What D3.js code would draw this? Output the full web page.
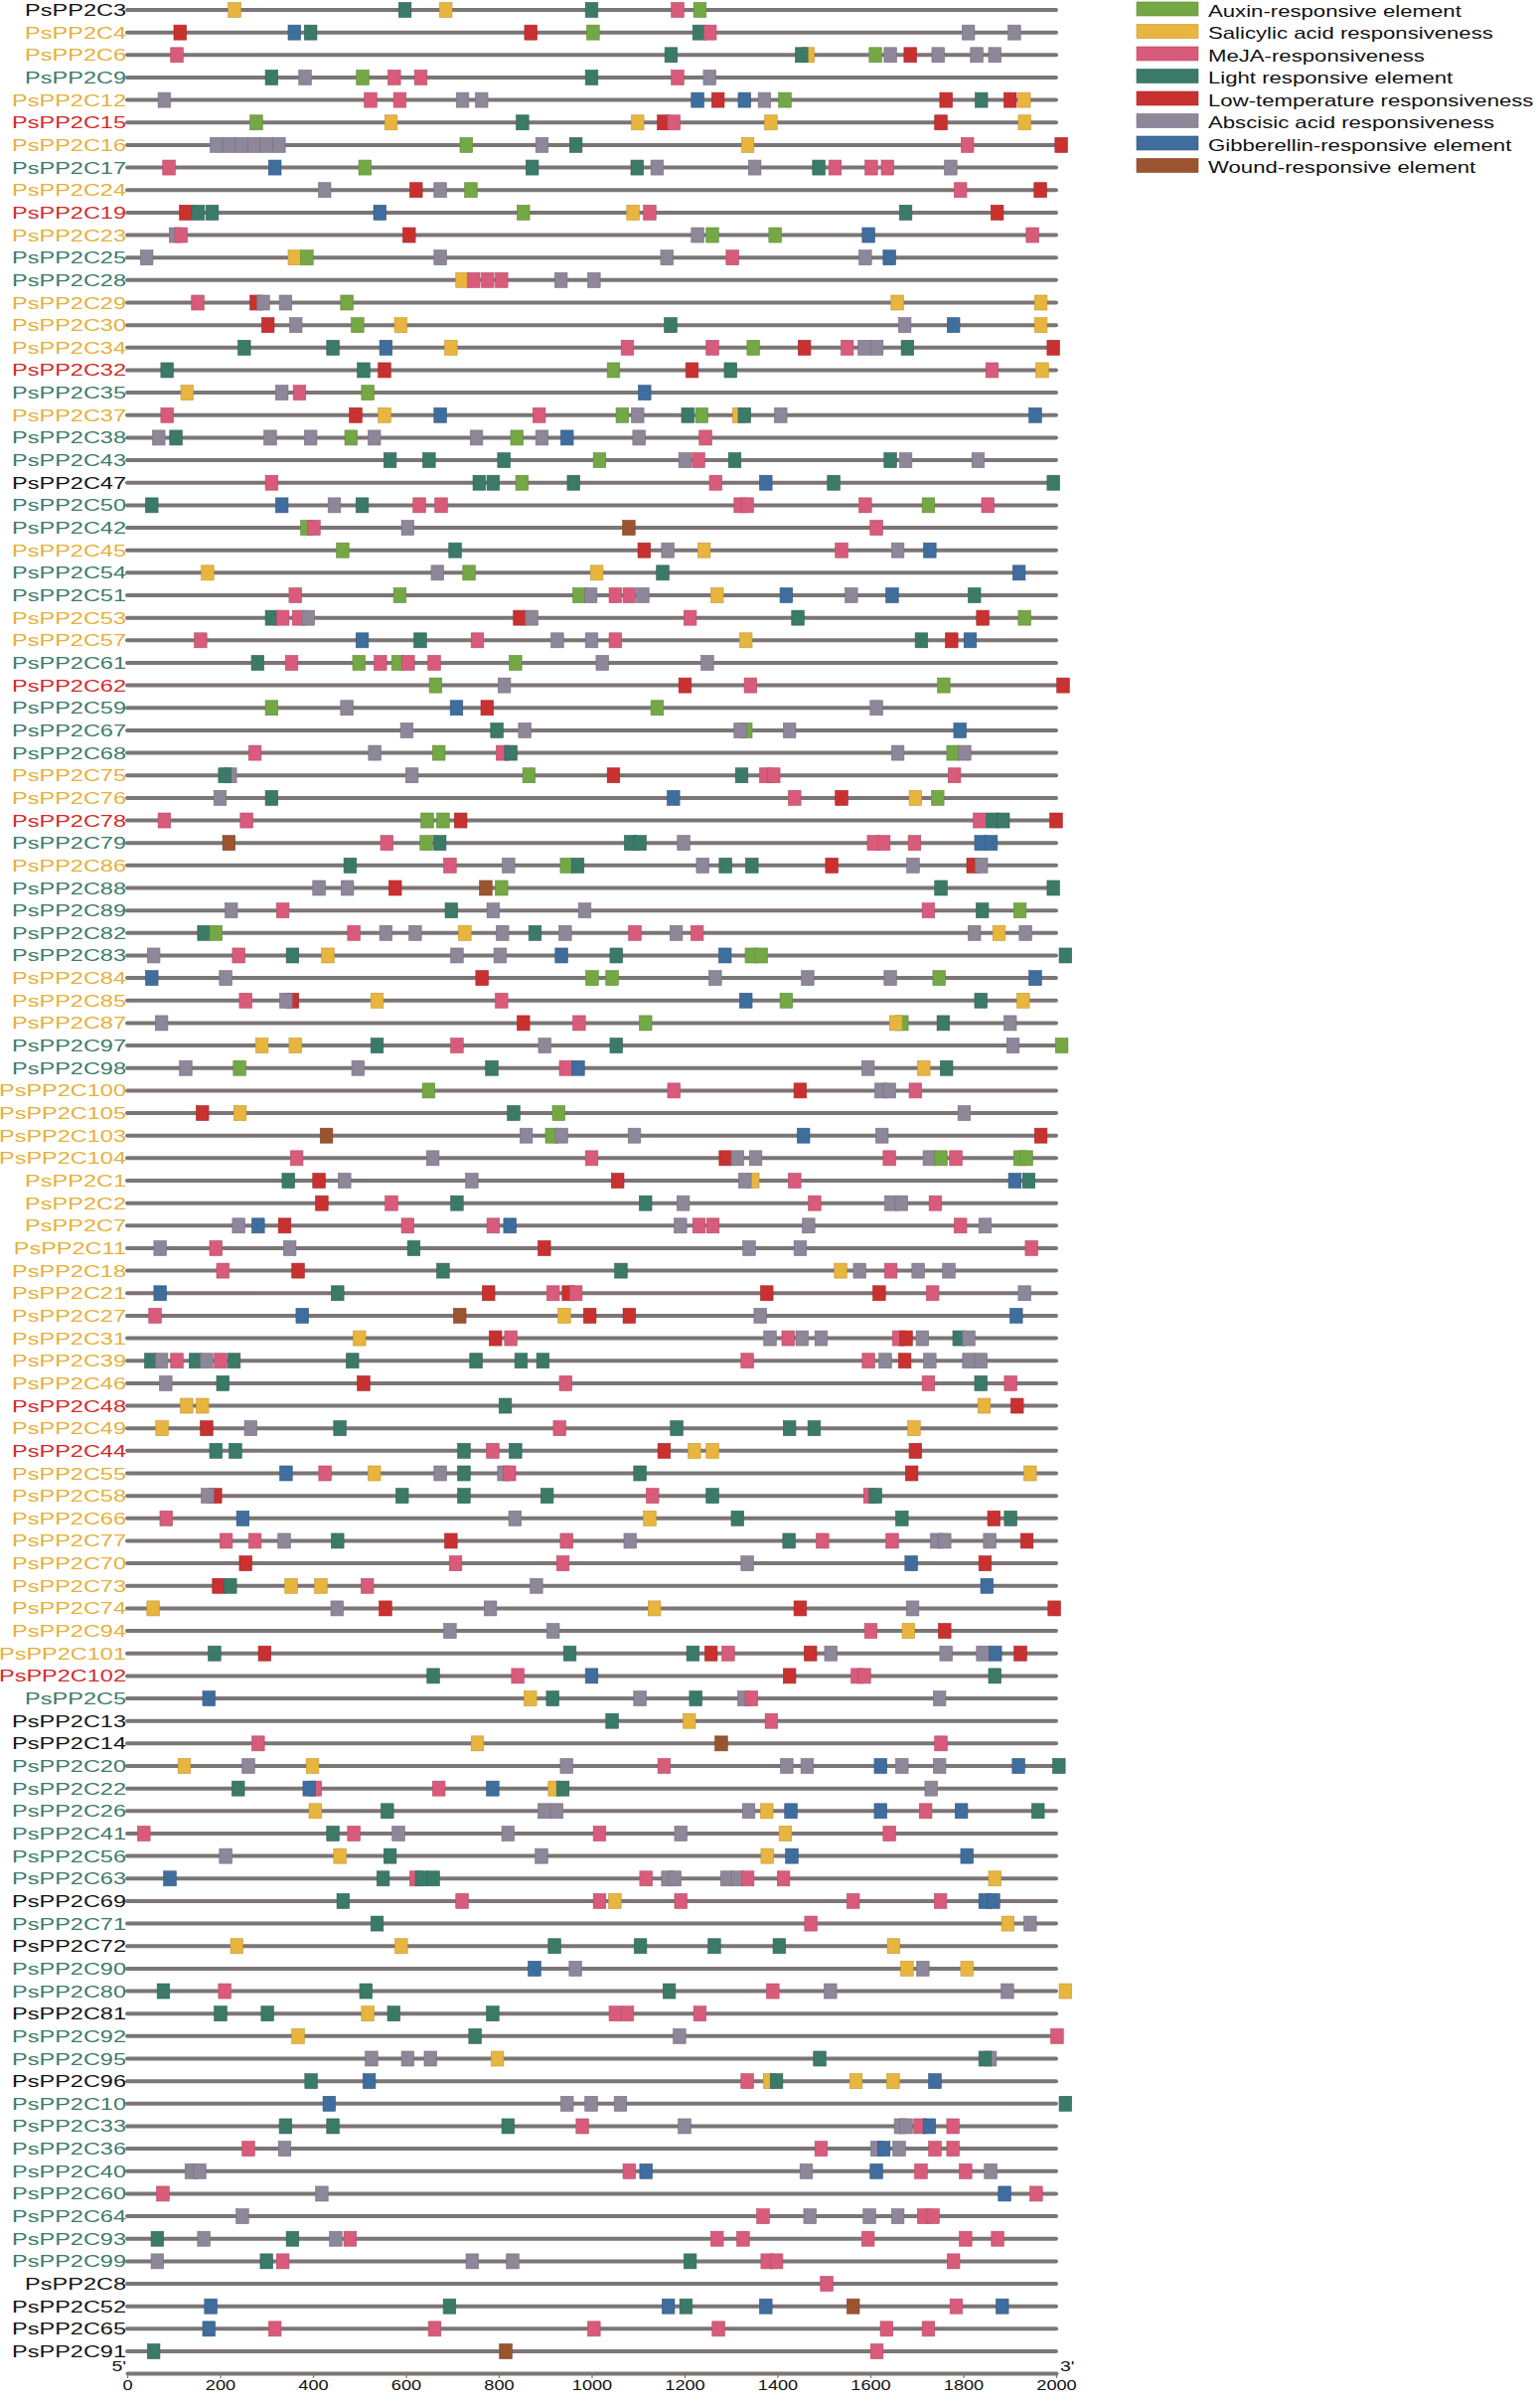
<!DOCTYPE html>
<html>
<head>
<meta charset="utf-8">
<script src="https://cdn.jsdelivr.net/npm/d3@7"></script>
<style>
  body { margin: 0; background: #fff; }
  text { font-family: "Liberation Sans", Arial, sans-serif; }
</style>
</head>
<body>
<div id="chart"></div>
<script>
// Gene names, top to bottom
const genes = ["PsPP2C3","PsPP2C4","PsPP2C6","PsPP2C9","PsPP2C12","PsPP2C15","PsPP2C16","PsPP2C17","PsPP2C24","PsPP2C19",
  "PsPP2C23","PsPP2C25","PsPP2C28","PsPP2C29","PsPP2C30","PsPP2C34","PsPP2C32","PsPP2C35","PsPP2C37","PsPP2C38",
  "PsPP2C43","PsPP2C47","PsPP2C50","PsPP2C42","PsPP2C45","PsPP2C54","PsPP2C51","PsPP2C53","PsPP2C57","PsPP2C61",
  "PsPP2C62","PsPP2C59","PsPP2C67","PsPP2C68","PsPP2C75","PsPP2C76","PsPP2C78","PsPP2C79","PsPP2C86","PsPP2C88",
  "PsPP2C89","PsPP2C82","PsPP2C83","PsPP2C84","PsPP2C85","PsPP2C87","PsPP2C97","PsPP2C98","PsPP2C100","PsPP2C105",
  "PsPP2C103","PsPP2C104","PsPP2C1","PsPP2C2","PsPP2C7","PsPP2C11","PsPP2C18","PsPP2C21","PsPP2C27","PsPP2C31",
  "PsPP2C39","PsPP2C46","PsPP2C48","PsPP2C49","PsPP2C44","PsPP2C55","PsPP2C58","PsPP2C66","PsPP2C77","PsPP2C70",
  "PsPP2C73","PsPP2C74","PsPP2C94","PsPP2C101","PsPP2C102","PsPP2C5","PsPP2C13","PsPP2C14","PsPP2C20","PsPP2C22",
  "PsPP2C26","PsPP2C41","PsPP2C56","PsPP2C63","PsPP2C69","PsPP2C71","PsPP2C72","PsPP2C90","PsPP2C80","PsPP2C81",
  "PsPP2C92","PsPP2C95","PsPP2C96","PsPP2C10","PsPP2C33","PsPP2C36","PsPP2C40","PsPP2C60","PsPP2C64","PsPP2C93",
  "PsPP2C99","PsPP2C8","PsPP2C52","PsPP2C65","PsPP2C91"];

// label colour group of each gene (k black, y yellow, t teal, r red)
const geneGroups = ["k","y","y","t","y","r","y","t","y","r",
  "y","t","t","y","y","y","r","t","y","t",
  "t","k","t","t","y","t","t","y","y","t",
  "r","t","t","t","y","y","r","t","y","t",
  "t","t","t","y","y","y","t","t","y","y",
  "y","y","y","y","y","y","y","y","y","y",
  "y","y","r","y","r","y","y","y","y","y",
  "y","y","y","y","r","t","k","k","t","t",
  "t","t","t","t","k","t","k","t","t","k",
  "t","t","k","t","t","t","t","t","t","t",
  "t","k","k","k","k"];

// cis-element sites per gene: type code + position (bp upstream, 0-2000)
const sites = [
  "S231 L598 S686 L1000 M1185 A1233",
  "T114 G360 L395 T869 A1003 L1231 M1255 B1811 B1910",
  "M107 L1171 S1466 L1452 A1611 B1643 T1686 B1746 B1829 B1868",
  "L311 B383 A507 M575 M632 L1000 M1185 B1254",
  "B80 M524 M587 B722 B763 G1228 T1272 G1329 B1372 A1416 T1763 L1839 T1901 S1931",
  "A278 S568 L851 S1099 T1155 M1177 S1386 T1752 S1932",
  "B192 B219 B246 B273 B300 B327 A730 B893 L966 S1336 M1809 T2011",
  "M90 G318 A512 L872 L1098 B1141 B1351 L1489 M1524 M1602 M1637 B1773",
  "B425 T622 B674 A740 M1794 T1966",
  "T126 L153 L183 G544 A853 S1089 M1125 L1676 T1873",
  "B104 M116 T607 B1228 A1260 A1395 G1596 M1949",
  "B42 S360 A387 B674 B1162 M1303 B1589 G1641",
  "S721 M746 M776 M806 B934 B1005",
  "M152 T278 B293 B341 A473 S1658 S1967",
  "T303 B363 A496 S589 L1170 B1674 G1779 S1967",
  "L252 L443 G557 S697 M1077 M1260 A1348 T1458 M1550 B1587 B1614 L1680 T1994",
  "L86 L509 T554 A1047 T1216 L1299 M1862 S1970",
  "S129 B333 M371 A518 G1114",
  "M86 T492 S554 G674 M887 A1066 B1099 L1207 A1237 S1317 L1329 B1407 G1955",
  "B68 L105 B308 B395 A482 B532 B752 A839 B893 G947 B1102 M1245",
  "L566 L650 L811 A1017 B1201 M1230 L1308 L1643 B1676 B1832",
  "M311 L758 L788 A850 L961 M1267 G1375 L1521 L1994",
  "L53 G333 B446 L506 M629 M676 M1320 M1335 M1589 A1725 M1853",
  "A387 M402 B604 W1080 M1613",
  "A464 L706 T1113 B1164 S1242 M1538 B1659 G1728",
  "S173 B668 A736 S1011 L1153 G1920",
  "M362 A587 A973 B998 M1051 M1081 B1110 S1270 G1419 B1559 G1647 L1824",
  "L311 M335 M369 B390 T845 B871 M1212 L1444 T1842 A1932",
  "M158 G506 L631 M754 B926 B1000 M1051 S1332 L1710 T1775 G1815",
  "L281 M354 A499 M545 A583 M605 M661 A836 B1023 B1249",
  "A664 B812 T1201 M1342 A1758 T2015",
  "A311 B473 G709 T775 A1141 B1613",
  "B602 L796 B856 A1332 B1320 B1426 G1793",
  "M275 B533 A671 M808 L826 B1659 A1778 B1803",
  "B222 L210 B613 A865 T1047 L1323 M1375 M1392 M1781",
  "B200 L311 G1176 M1437 T1538 S1697 A1745",
  "M80 M257 A646 A680 T718 M1835 L1863 L1886 T2000",
  "W219 M559 A644 L673 L1084 L1104 B1198 M1607 M1629 M1695 G1838 G1860",
  "L480 M695 B821 A946 L970 B1239 L1288 L1345 T1517 B1692 T1821 B1839",
  "B413 B474 T577 W772 A806 L1752 L1994",
  "B224 M335 L698 B788 B985 M1725 L1841 A1922",
  "L165 A191 M488 B557 B620 S727 B808 L878 B943 M1093 B1182 M1227 B1824 S1877 B1934",
  "B57 M240 L356 S432 B710 B803 G935 L1053 G1287 A1344 A1365 L2020",
  "G53 B212 T764 A1001 A1044 B1266 B1465 B1643 A1748 G1955",
  "M255 T356 B342 S538 M806 G1332 A1419 L1838 S1929",
  "B74 T853 M973 A1116 A1668 S1655 L1757 B1901",
  "S290 S362 L538 M710 B899 L1053 B1907 A2012",
  "B126 A242 B497 L785 M944 G971 B1595 S1715 L1764",
  "A649 M1177 T1449 B1623 B1641 M1697",
  "T162 S243 L832 A929 B1802",
  "W429 B859 A914 B935 B1092 G1456 B1625 T1967",
  "M365 B658 M1000 T1288 B1314 B1353 M1641 B1727 A1752 M1784 A1922 A1936",
  "L347 T413 B468 B742 T1056 S1347 B1330 M1437 G1911 L1941",
  "T419 M569 L710 L1116 B1197 M1480 B1644 B1667 M1740",
  "B240 G282 T339 M604 M788 G824 B1191 M1231 M1261 B1467 M1794 B1847",
  "B71 M191 B350 L617 T898 B1339 B1449 M1947",
  "M206 T368 L680 L1063 S1536 B1577 M1644 B1703 B1769",
  "G71 L453 T778 M917 T950 M966 T1377 T1619 M1734 B1932",
  "M60 G377 W716 S941 T996 T1081 B1363 G1914",
  "S500 T793 M826 B1384 M1423 B1453 B1494 M1661 T1677 B1712 L1791 B1812",
  "L51 B74 M107 L147 B171 M201 L230 L485 L751 L848 L895 M1335 M1596 B1632 T1674 B1728 B1812 B1838",
  "B83 L206 T509 M944 M1725 L1838 M1902",
  "S128 S162 L814 S1845 T1916",
  "S75 T171 B266 L458 M931 L1183 L1426 L1479 S1694",
  "L191 L233 L725 M787 L836 T1156 S1221 S1260 T1697",
  "G342 M426 S532 B674 L725 B811 M823 L1104 T1689 S1944",
  "T190 B173 L592 L725 L904 M1131 L1260 M1599 L1611",
  "M84 G249 B835 S1125 L1314 L1668 T1866 L1902",
  "M213 M275 B338 L453 T697 M946 B1083 L1425 M1497 M1647 B1743 B1760 B1857 T1937",
  "T255 M707 M938 B1335 G1688 T1847",
  "T197 L222 S353 S417 M517 B881 G1851",
  "S56 B452 T556 B782 S1135 T1449 B1691 T1996",
  "B695 B917 M1601 S1682 T1760",
  "L188 T296 L953 L1218 T1257 M1294 T1471 B1515 B1763 B1842 G1869 T1923",
  "L659 M841 G1000 T1426 M1572 M1587 L1868",
  "G176 S868 L916 B1104 L1224 B1328 M1344 B1749",
  "L1044 S1210 M1387",
  "M282 S754 W1279 M1752",
  "S123 B261 S399 B946 M1156 B1420 B1464 G1622 B1668 B1749 G1919 L2006",
  "L239 M405 G392 M671 G787 S920 L938 B1731",
  "S405 L560 B898 B925 B1338 S1377 G1429 G1622 M1719 G1796 L1961",
  "M36 L443 M488 B584 B820 M1017 B1192 S1417 M1641",
  "B212 S458 L566 B892 S1378 G1431 G1808",
  "G92 L551 M622 L634 L659 M1117 B1164 B1179 B1291 B1314 M1336 M1413 S1868",
  "L465 M721 M1017 S1050 M1192 M1563 M1751 G1847 G1865",
  "L538 M1472 S1896 B1944",
  "S236 S590 L920 L1105 L1264 L1404 S1650",
  "G877 B965 S1679 B1713 S1808",
  "L78 M210 L514 L1167 M1390 B1514 B1895 S2020",
  "L201 L302 S518 L574 L787 M1051 M1077 M1233",
  "S368 L749 B1189 M2002",
  "B526 B604 B653 S797 L1491 B1858 L1847",
  "L396 G521 M1335 S1383 L1398 S1569 S1649 G1739",
  "G435 B947 B999 B1062 L2020",
  "L341 L443 L820 M980 B1200 B1665 B1677 M1707 G1727 M1778",
  "M261 B339 M1494 B1614 G1629 B1662 M1739 M1778",
  "B138 B156 M1081 G1117 B1462 G1613 M1709 M1805 B1859",
  "M77 B419 G1889 M1957",
  "B248 M1369 B1470 B1598 B1659 M1715 M1735",
  "L65 B165 L356 B449 M480 M1270 M1326 M1595 M1805 M1874",
  "B65 L300 M335 B743 B830 L1212 M1378 M1398 M1779",
  "M1506",
  "G180 L694 G1165 L1203 G1375 W1563 M1785 G1884",
  "G176 M318 M662 M1005 M1273 M1635 M1725",
  "L57 W815 M1614"
];

// element types (legend order)
const elementCodes = ["A","S","M","L","T","B","G","W"];
const elementNames = ["Auxin-responsive element","Salicylic acid responsiveness","MeJA-responsiveness",
  "Light responsive element","Low-temperature responsiveness","Abscisic acid responsiveness",
  "Gibberellin-responsive element","Wound-responsive element"];
const elementColors = ["#74a845","#e8b53f","#d95b7b","#3b7a69","#c93131","#8e8699","#3f6d9d","#9a5430"];

const groupColors = { k: "#141414", y: "#e5b13b", t: "#3d7b6c", r: "#d32b2b" };
const axisTicks = [0, 200, 400, 600, 800, 1000, 1200, 1400, 1600, 1800, 2000];

const W = 1550, H = 2418;
const boxLen = 27;   // bp width of one element box

const svg = d3.select("#chart").append("svg")
    .attr("width", W)
    .attr("height", H);

const x = d3.scaleLinear().domain([0, 2000]).range([128, 1063]);
const y = d3.scalePoint().domain(genes).range([10, 2366]);
const colorOf = d3.scaleOrdinal().domain(elementCodes).range(elementColors);

// parse the site strings
const rows = genes.map(function (g, i) {
    return {
        gene: g,
        group: geneGroups[i],
        sites: sites[i].split(" ").map(function (s) {
            return { type: s[0], pos: +s.slice(1) };
        })
    };
});

// backbones
svg.append("g").selectAll("line")
    .data(rows)
    .enter().append("line")
    .attr("x1", x(0))
    .attr("x2", x(2000))
    .attr("y1", function (d) { return y(d.gene); })
    .attr("y2", function (d) { return y(d.gene); })
    .attr("stroke", "#7c7575")
    .attr("stroke-width", 4)
    .attr("stroke-linecap", "round");

// element boxes
const boxW = x(boxLen) - x(0);
const rowG = svg.append("g").selectAll("g")
    .data(rows)
    .enter().append("g")
    .attr("transform", function (d) { return "translate(0," + y(d.gene) + ")"; });

rowG.selectAll("rect")
    .data(function (d) { return d.sites; })
    .enter().append("rect")
    .attr("x", function (d) { return x(d.pos - boxLen / 2); })
    .attr("y", -7.5)
    .attr("width", boxW)
    .attr("height", 15)
    .attr("fill", function (d) { return colorOf(d.type); })
    .attr("stroke", function (d) { return d3.color(colorOf(d.type)).darker(0.5); })
    .attr("stroke-width", 0.6);

// gene labels (horizontally stretched like the source figure)
rowG.append("text")
    .attr("transform", "translate(" + (x(0) - 1) + ",6) scale(1.4,1)")
    .attr("text-anchor", "end")
    .style("font-size", "16.8px")
    .attr("fill", function (d) { return groupColors[d.group]; })
    .text(function (d) { return d.gene; });

// bottom axis
const axisY = 2388;
const axisG = svg.append("g")
    .attr("transform", "translate(0," + axisY + ")")
    .call(d3.axisBottom(x).tickValues(axisTicks).tickSize(5).tickSizeOuter(0).tickFormat(d3.format("d")));

axisG.select(".domain")
    .attr("stroke", "#7c7575")
    .attr("stroke-width", 4)
    .attr("stroke-linecap", "round");
axisG.selectAll(".tick line").attr("stroke", "#7c7575").attr("stroke-width", 1.2);
axisG.selectAll(".tick text")
    .attr("transform", "scale(1.3,1)")
    .attr("y", 7)
    .style("font-size", "14px")
    .style("font-family", "'Liberation Sans', Arial, sans-serif")
    .attr("fill", "#111");

svg.append("text")
    .attr("transform", "translate(" + (x(0) - 1) + "," + (axisY - 2) + ") scale(1.3,1)")
    .attr("text-anchor", "end")
    .style("font-size", "15px")
    .attr("fill", "#111")
    .text("5'");
svg.append("text")
    .attr("transform", "translate(" + (x(2000) + 4) + "," + (axisY - 2) + ") scale(1.3,1)")
    .style("font-size", "15px")
    .attr("fill", "#111")
    .text("3'");

// legend
const legend = svg.append("g").selectAll("g")
    .data(elementNames)
    .enter().append("g")
    .attr("transform", function (d, i) { return "translate(1144," + (9 + i * 22.5) + ")"; });

legend.append("rect")
    .attr("x", 0)
    .attr("y", -7)
    .attr("width", 62)
    .attr("height", 14)
    .attr("fill", function (d, i) { return elementColors[i]; })
    .attr("stroke", function (d, i) { return d3.color(elementColors[i]).darker(0.5); })
    .attr("stroke-width", 0.6);

legend.append("text")
    .attr("transform", "translate(72,7.5) scale(1.36,1)")
    .style("font-size", "16.3px")
    .attr("fill", "#111")
    .text(function (d) { return d; });
</script>
</body>
</html>
